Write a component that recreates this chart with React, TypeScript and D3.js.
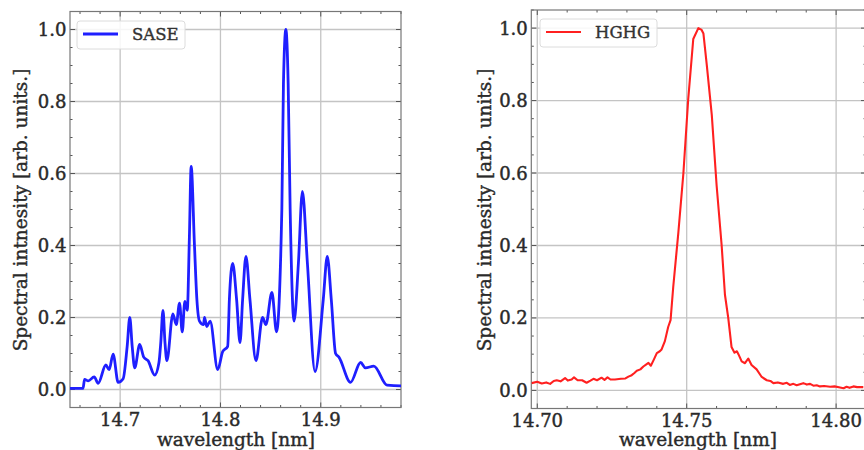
import React, { useRef, useEffect } from "react";
import * as d3 from "d3";

// SASE spectrum
const saseWavelength = [
  14.65, 14.663, 14.6645, 14.6682, 14.6741, 14.6781, 14.6857, 14.689, 14.693,
  14.698, 14.703, 14.707, 14.7096, 14.712, 14.7145, 14.7195, 14.7235, 14.7278,
  14.7344, 14.7387, 14.7405, 14.7427, 14.7447, 14.7466, 14.7526, 14.7559,
  14.7592, 14.7619, 14.7645, 14.7669, 14.769, 14.7708, 14.7741, 14.7765,
  14.7791, 14.7831, 14.7841, 14.7864, 14.7897, 14.7973, 14.8022, 14.8072,
  14.8089, 14.8122, 14.8161, 14.8195, 14.8221, 14.8254, 14.8294, 14.8354,
  14.842, 14.8453, 14.8513, 14.8559, 14.8612, 14.8628, 14.8652, 14.8675,
  14.8695, 14.8734, 14.8777, 14.8817, 14.8867, 14.8943, 14.9025, 14.9065,
  14.9105, 14.9148, 14.9181, 14.9297, 14.9397, 14.9446, 14.9529, 14.9661,
  14.9794, 14.985,
];
const saseIntensity = [
  0.003, 0.003, 0.028, 0.024, 0.035, 0.017, 0.068, 0.055, 0.098, 0.02, 0.03,
  0.12, 0.2, 0.12, 0.06, 0.125, 0.09, 0.08, 0.04, 0.075, 0.13, 0.22, 0.13,
  0.08, 0.21, 0.18, 0.24, 0.16, 0.245, 0.22, 0.42, 0.62, 0.4, 0.25, 0.19,
  0.18, 0.2, 0.175, 0.19, 0.055, 0.105, 0.12, 0.25, 0.35, 0.25, 0.13, 0.25,
  0.37, 0.25, 0.08, 0.2, 0.18, 0.27, 0.16, 0.5, 0.85, 1.0, 0.85, 0.5, 0.19,
  0.35, 0.55, 0.35, 0.05, 0.25, 0.37, 0.25, 0.1, 0.09, 0.02, 0.075, 0.06,
  0.065, 0.012, 0.01, 0.01,
];

// HGHG spectrum
const hghgWavelength = [
  14.6981, 14.7, 14.7015, 14.703, 14.7043, 14.7055, 14.7065, 14.7078, 14.7093,
  14.7102, 14.7115, 14.7123, 14.7135, 14.715, 14.7165, 14.7178, 14.7188,
  14.72, 14.7215, 14.7225, 14.7235, 14.7245, 14.726, 14.728, 14.7295, 14.7305,
  14.7316, 14.7325, 14.7333, 14.7345, 14.7355, 14.7365, 14.7372, 14.738,
  14.739, 14.74, 14.741, 14.7416, 14.7427, 14.7438, 14.7446, 14.7455, 14.7472,
  14.7489, 14.7505, 14.7522, 14.7539, 14.755, 14.7556, 14.7567, 14.7584,
  14.76, 14.7617, 14.7628, 14.7639, 14.765, 14.766, 14.7668, 14.7673,
  14.7684, 14.7695, 14.7706, 14.7717, 14.7734, 14.7751, 14.7768, 14.778,
  14.779, 14.7805, 14.7823, 14.7835, 14.7845, 14.7857, 14.7868, 14.7879,
  14.789, 14.7902, 14.7913, 14.7924, 14.7935, 14.7946, 14.796, 14.798,
  14.7995, 14.8013, 14.8025, 14.8035, 14.8045, 14.8058, 14.807, 14.8091,
];
const hghgIntensity = [
  0.02, 0.024, 0.019, 0.022, 0.018, 0.026, 0.028, 0.025, 0.034, 0.027, 0.03,
  0.036, 0.028, 0.028, 0.021, 0.027, 0.032, 0.028, 0.035, 0.029, 0.036, 0.03,
  0.03, 0.032, 0.033, 0.038, 0.042, 0.048, 0.054, 0.058, 0.066, 0.072, 0.076,
  0.068, 0.085, 0.103, 0.108, 0.113, 0.136, 0.175, 0.194, 0.286, 0.435, 0.6,
  0.803, 0.97, 1.0, 0.995, 0.985, 0.9, 0.76, 0.567, 0.4, 0.264, 0.2, 0.12,
  0.104, 0.108, 0.1, 0.08, 0.075, 0.088, 0.07, 0.058, 0.037, 0.028, 0.026,
  0.02, 0.022, 0.018, 0.021, 0.015, 0.018, 0.014, 0.017, 0.02, 0.016, 0.018,
  0.013, 0.014, 0.011, 0.012, 0.01, 0.011, 0.008, 0.006, 0.01, 0.007, 0.011,
  0.009, 0.009,
];

const yTicks = [0, 0.2, 0.4, 0.6, 0.8, 1.0];
const saseXTicks = [14.7, 14.8, 14.9];
const hghgXTicks = [14.7, 14.75, 14.8];
const yLabel = "Spectral intnesity [arb. units.]";
const xLabel = "wavelength [nm]";

const FONT = "DejaVu Serif";
const INK = "#2a2a2a";

function drawPanel(svg, o) {
  const x = d3.scaleLinear().domain(o.xDomain).range([o.left, o.right]);
  const y = d3.scaleLinear().domain([-0.05, 1.05]).range([o.bottom, o.top]);
  const g = svg.append("g");

  const clipId = "clip-" + o.name;
  svg
    .append("clipPath")
    .attr("id", clipId)
    .append("rect")
    .attr("x", o.left)
    .attr("y", o.top)
    .attr("width", o.right - o.left)
    .attr("height", o.bottom - o.top);

  // grid
  g.selectAll(".gx")
    .data(o.xTicks)
    .enter()
    .append("line")
    .attr("x1", (d) => x(d))
    .attr("x2", (d) => x(d))
    .attr("y1", o.top)
    .attr("y2", o.bottom)
    .attr("stroke", "#c4c4c4")
    .attr("stroke-width", 1.3);
  g.selectAll(".gy")
    .data(yTicks)
    .enter()
    .append("line")
    .attr("x1", o.left)
    .attr("x2", o.right)
    .attr("y1", (d) => y(d))
    .attr("y2", (d) => y(d))
    .attr("stroke", "#c4c4c4")
    .attr("stroke-width", 1.3);

  // ticks, inward on all four sides
  const startMinor = Math.ceil(o.xDomain[0] / o.xMinor - 1e-6) * o.xMinor;
  const xm = d3
    .range(Math.round((o.xDomain[1] - startMinor) / o.xMinor) + 1)
    .map((i) => startMinor + i * o.xMinor)
    .filter((v) => v <= o.xDomain[1]);
  const ym = d3.range(-0.05, 1.051, 0.05);
  const tickColor = "#555";
  xm.forEach((v) => {
    const major = o.xTicks.some((t) => Math.abs(t - v) < 1e-6);
    const len = major ? 5 : 2.5;
    g.append("line").attr("x1", x(v)).attr("x2", x(v)).attr("y1", o.bottom).attr("y2", o.bottom - len).attr("stroke", tickColor);
    g.append("line").attr("x1", x(v)).attr("x2", x(v)).attr("y1", o.top).attr("y2", o.top + len).attr("stroke", tickColor);
  });
  ym.forEach((v) => {
    const major = yTicks.some((t) => Math.abs(t - v) < 1e-6);
    const len = major ? 5 : 2.5;
    g.append("line").attr("x1", o.left).attr("x2", o.left + len).attr("y1", y(v)).attr("y2", y(v)).attr("stroke", tickColor);
    g.append("line").attr("x1", o.right).attr("x2", o.right - len).attr("y1", y(v)).attr("y2", y(v)).attr("stroke", tickColor);
  });

  // frame
  g.append("rect")
    .attr("x", o.left)
    .attr("y", o.top)
    .attr("width", o.right - o.left)
    .attr("height", o.bottom - o.top)
    .attr("fill", "none")
    .attr("stroke", "#777")
    .attr("stroke-width", 1.2);

  // tick labels
  g.selectAll(".xl")
    .data(o.xTicks)
    .enter()
    .append("text")
    .attr("x", (d) => x(d))
    .attr("y", o.bottom + 18)
    .attr("text-anchor", "middle")
    .attr("font-family", FONT)
    .attr("font-size", 18)
    .attr("fill", INK)
    .attr("stroke", INK)
    .attr("stroke-width", 0.45)
    .text((d) => d3.format(o.xFormat)(d));
  g.selectAll(".yl")
    .data(yTicks)
    .enter()
    .append("text")
    .attr("x", o.left - 3.5)
    .attr("y", (d) => y(d))
    .attr("dy", "0.36em")
    .attr("text-anchor", "end")
    .attr("font-family", FONT)
    .attr("font-size", 18)
    .attr("fill", INK)
    .attr("stroke", INK)
    .attr("stroke-width", 0.45)
    .text((d) => d3.format(".1f")(d));

  // axis labels
  g.append("text")
    .attr("x", o.xLabelX)
    .attr("y", 446)
    .attr("text-anchor", "middle")
    .attr("font-family", FONT)
    .attr("font-size", 18.5)
    .attr("fill", INK)
    .attr("stroke", INK)
    .attr("stroke-width", 0.4)
    .text(xLabel);
  g.append("text")
    .attr("transform", `translate(${o.yLabelX},210) rotate(-90)`)
    .attr("text-anchor", "middle")
    .attr("font-family", FONT)
    .attr("font-size", 18.5)
    .attr("fill", INK)
    .attr("stroke", INK)
    .attr("stroke-width", 0.4)
    .text(yLabel);

  // spectrum
  const pts = o.xs.map((v, i) => [v, o.ys[i]]);
  const line = d3
    .line()
    .x((d) => x(d[0]))
    .y((d) => y(d[1]))
    .curve(o.curve);
  g.append("path")
    .attr("clip-path", `url(#${clipId})`)
    .attr("d", line(pts))
    .attr("fill", "none")
    .attr("stroke", o.color)
    .attr("stroke-width", o.lineWidth)
    .attr("stroke-linejoin", "round");

  // legend
  const lg = o.legend;
  g.append("rect")
    .attr("x", lg.x)
    .attr("y", lg.y)
    .attr("width", lg.w)
    .attr("height", 28)
    .attr("rx", 3)
    .attr("fill", "rgba(255,255,255,0.85)")
    .attr("stroke", "#dcdcdc");
  g.append("line")
    .attr("x1", lg.x + 6)
    .attr("x2", lg.x + 41)
    .attr("y1", lg.y + 13)
    .attr("y2", lg.y + 13)
    .attr("stroke", o.color)
    .attr("stroke-width", o.lineWidth);
  g.append("text")
    .attr("x", lg.x + 55)
    .attr("y", lg.y + 13)
    .attr("dy", "0.36em")
    .attr("font-family", FONT)
    .attr("font-size", 16.5)
    .attr("fill", "#333")
    .attr("stroke", "#333")
    .attr("stroke-width", 0.4)
    .text(o.name);
}

const App = () => {
  const ref = useRef(null);

  useEffect(() => {
    const svg = d3.select(ref.current);
    svg.selectAll("*").remove();

    drawPanel(svg, {
      name: "SASE",
      xs: saseWavelength,
      ys: saseIntensity,
      xDomain: [14.65, 14.98],
      xTicks: saseXTicks,
      xMinor: 0.02,
      xFormat: ".1f",
      left: 70,
      right: 401,
      top: 11.5,
      bottom: 407.5,
      color: "#1f1fff",
      lineWidth: 2.8,
      curve: d3.curveMonotoneX,
      xLabelX: 236,
      yLabelX: 27,
      legend: { x: 77, y: 21, w: 108 },
    });

    drawPanel(svg, {
      name: "HGHG",
      xs: hghgWavelength,
      ys: hghgIntensity,
      xDomain: [14.698, 14.81],
      xTicks: hghgXTicks,
      xMinor: 0.01,
      xFormat: ".2f",
      left: 531.3,
      right: 866,
      top: 10,
      bottom: 408.5,
      color: "#ff2020",
      lineWidth: 2.1,
      curve: d3.curveLinear,
      xLabelX: 698,
      yLabelX: 491,
      legend: { x: 540, y: 19, w: 117 },
    });
  }, []);

  return (
    <svg
      ref={ref}
      width={864}
      height={450}
      style={{ position: "absolute", left: 0, top: 0, background: "#fff" }}
    ></svg>
  );
};

export default App;
